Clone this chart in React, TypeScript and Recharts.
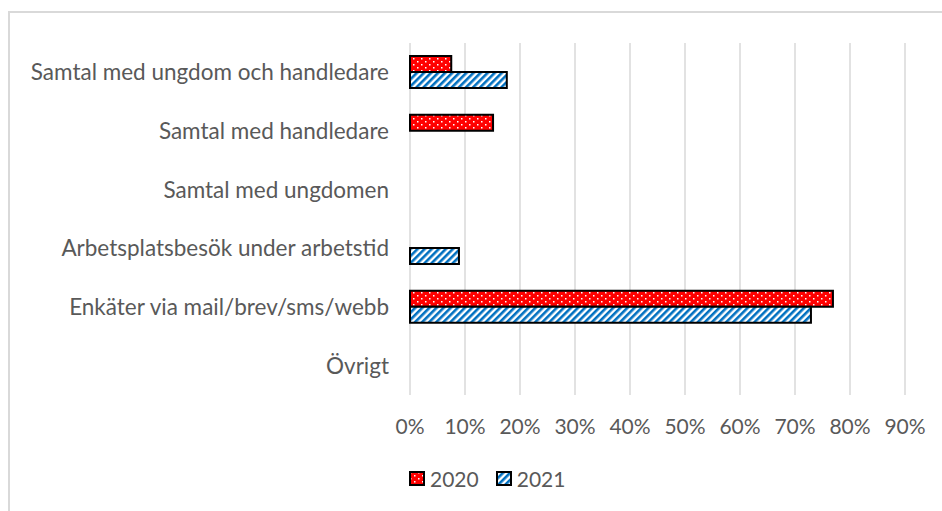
import React from "react";
import { BarChart, Bar, XAxis, YAxis, CartesianGrid, Legend } from "recharts";

const categories = [
  "Samtal med ungdom och handledare",
  "Samtal med handledare",
  "Samtal med ungdomen",
  "Arbetsplatsbesök under arbetstid",
  "Enkäter via mail/brev/sms/webb",
  "Övrigt",
];
const values2020 = [0.075, 0.151, null, null, 0.769, null];
const values2021 = [0.176, null, null, 0.089, 0.729, null];
const xTicks = [0, 0.1, 0.2, 0.3, 0.4, 0.5, 0.6, 0.7, 0.8, 0.9];

const data = categories.map((name, i) => ({
  name,
  y2020: values2020[i],
  y2021: values2021[i],
}));

const FONT = "Lato, 'Noto Sans', sans-serif";
const TEXT = "#595959";

const series = [
  { key: "y2020", label: "2020", fill: "url(#dots2020)" },
  { key: "y2021", label: "2021", fill: "url(#stripes2021)" },
];

const LegendContent = () => (
  <div style={{ display: "flex", alignItems: "center", fontFamily: FONT, fontSize: 21, color: TEXT }}>
    {series.map((s, i) => (
      <div key={s.key} style={{ display: "flex", alignItems: "center", marginRight: i === 0 ? 17 : 0 }}>
        <svg width={16} height={15} style={{ marginRight: 5 }}>
          <rect x={1} y={1} width={14} height={13} fill={s.fill} stroke="#000" strokeWidth={2} />
        </svg>
        <span>{s.label}</span>
      </div>
    ))}
  </div>
);

export default function App() {
  return (
    <div style={{ position: "absolute", left: 0, top: 0, width: 942, height: 511, background: "#fff", overflow: "hidden" }}>
      <div
        style={{
          position: "absolute",
          left: 8,
          top: 11,
          width: 960,
          height: 520,
          borderTop: "2px solid #d9d9d9",
          borderLeft: "2px solid #d9d9d9",
        }}
      />
      <div style={{ position: "absolute", left: 0, top: 0 }}>
        <BarChart
          width={942}
          height={511}
          data={data}
          layout="vertical"
          margin={{ top: 43, right: 37, left: 0, bottom: 76 }}
          barCategoryGap={13}
          barGap={0}
        >
          <defs>
            <pattern id="dots2020" patternUnits="userSpaceOnUse" width={8} height={6}>
              <rect width={8} height={6} fill="#ff0000" />
              <rect x={1} y={1} width={1.5} height={1.5} fill="#ffffff" />
              <rect x={5} y={4} width={1.5} height={1.5} fill="#ffffff" />
            </pattern>
            <pattern
              id="stripes2021"
              patternUnits="userSpaceOnUse"
              width={5}
              height={5}
              patternTransform="rotate(45)"
            >
              <rect width={5} height={5} fill="#ffffff" />
              <rect width={2.6} height={5} fill="#0070c0" />
            </pattern>
          </defs>
          <CartesianGrid horizontal={false} stroke="#d9d9d9" strokeWidth={1.5} />
          <XAxis
            type="number"
            domain={[0, 0.9]}
            ticks={xTicks}
            tickFormatter={(v) => `${Math.round(v * 100)}%`}
            axisLine={false}
            tickLine={false}
            tickSize={0}
            tickMargin={24}
            height={40}
            interval={0}
            tick={{ fill: TEXT, fontSize: 21, fontFamily: FONT }}
          />
          <YAxis
            type="category"
            dataKey="name"
            width={410}
            axisLine={false}
            tickLine={false}
            tickSize={0}
            tickMargin={21}
            interval={0}
            tick={{ fill: TEXT, fontSize: 22.5, fontFamily: FONT }}
          />
          <Legend
            layout="horizontal"
            verticalAlign="middle"
            align="center"
            content={<LegendContent />}
            wrapperStyle={{ position: "absolute", left: 409, top: 466, width: 200, height: 24 }}
          />
          {series.map((s) => (
            <Bar
              key={s.key}
              dataKey={s.key}
              name={s.label}
              fill={s.fill}
              stroke="#000000"
              strokeWidth={2}
              isAnimationActive={false}
            />
          ))}
        </BarChart>
      </div>
    </div>
  );
}
